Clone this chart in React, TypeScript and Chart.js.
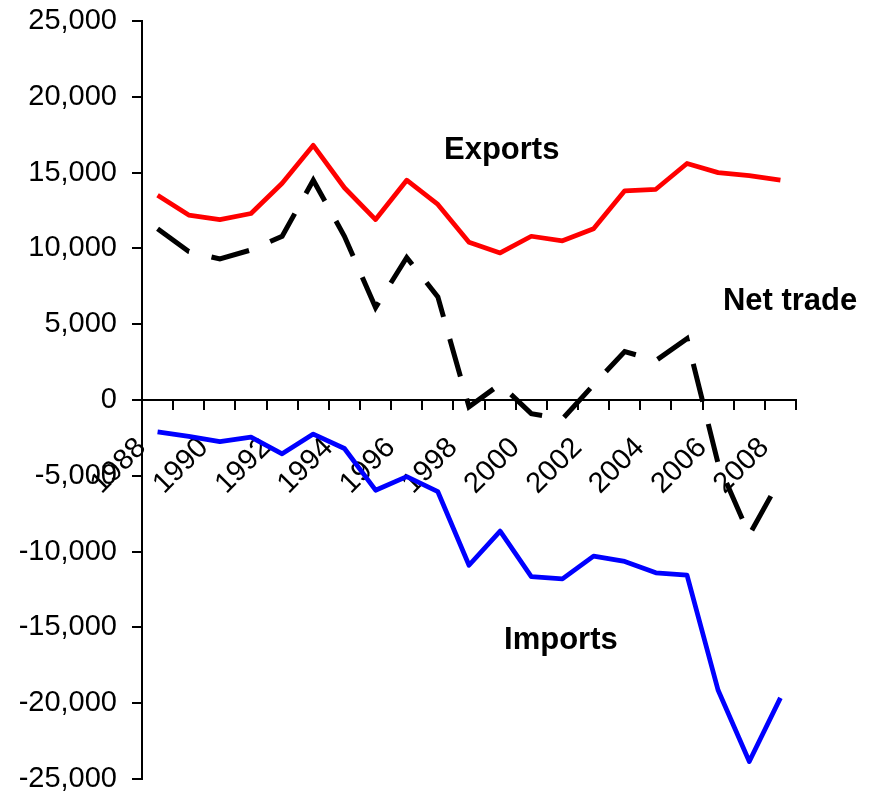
import React, { useEffect, useRef } from "react";
import { Chart, registerables } from "chart.js";

Chart.register(...registerables);

const years = [
  "1988", "1989", "1990", "1991", "1992", "1993", "1994", "1995", "1996", "1997",
  "1998", "1999", "2000", "2001", "2002", "2003", "2004", "2005", "2006", "2007", "2008",
];

const exportsValues = [
  13500, 12200, 11900, 12300, 14300, 16800, 14000, 11900, 14500, 12900,
  10400, 9700, 10800, 10500, 11300, 13800, 13900, 15600, 15000, 14800, 14500,
];

const importsValues = [
  -2100, -2400, -2750, -2450, -3550, -2250, -3200, -5950, -5050, -6050,
  -10900, -8650, -11650, -11800, -10300, -10650, -11400, -11550, -19150, -23850, -19650,
];

const netTradeValues = [
  11300, 9800, 9300, 9900, 10800, 14500, 10800, 6100, 9400, 6800,
  -450, 1050, -900, -1250, 1000, 3200, 2600, 4050, -4200, -8900, -5200,
];

const yMin = -25000;
const yMax = 25000;
const yStep = 5000;

// Series captions, anchored in data coordinates (category index, value)
const captionTexts = ["Exports", "Net trade", "Imports"];
const captionX = [11.05, 20.31, 12.95];
const captionY = [15900, 5930, -16430];

const FONT = "'Liberation Sans', Arial, Helvetica, sans-serif";

const fmt = (v: number) => {
  const s = Math.abs(v).toString().replace(/\B(?=(\d{3})+(?!\d))/g, ",");
  return (v < 0 ? "-" : "") + s;
};

const captionPlugin = {
  id: "captions",
  afterDatasetsDraw(chart: any) {
    const { ctx, scales } = chart;
    ctx.save();
    ctx.font = `bold 31px ${FONT}`;
    ctx.fillStyle = "#000";
    ctx.textAlign = "center";
    ctx.textBaseline = "alphabetic";
    captionTexts.forEach((t, i) => {
      const x = scales.x.getPixelForValue(captionX[i]);
      const y = scales.y.getPixelForValue(captionY[i]);
      ctx.fillText(t, x, y);
    });
    ctx.restore();
  },
};

export default function App() {
  const ref = useRef<HTMLCanvasElement>(null);

  useEffect(() => {
    if (!ref.current) return;
    const chart = new Chart(ref.current, {
      type: "line",
      data: {
        labels: years,
        datasets: [
          {
            label: "Exports",
            data: exportsValues,
            borderColor: "#FF0000",
            backgroundColor: "#FF0000",
            borderWidth: 4.75,
            pointRadius: 0,
            tension: 0,
            borderJoinStyle: "round",
          },
          {
            label: "Imports",
            data: importsValues,
            borderColor: "#0000FF",
            backgroundColor: "#0000FF",
            borderWidth: 4.75,
            pointRadius: 0,
            tension: 0,
            borderJoinStyle: "round",
          },
          {
            label: "Net trade",
            data: netTradeValues,
            borderColor: "#000000",
            backgroundColor: "#000000",
            borderWidth: 5,
            borderDash: [39, 23],
            pointRadius: 0,
            tension: 0,
            borderJoinStyle: "miter",
          },
        ],
      },
      options: {
        responsive: false,
        animation: false,
        events: [],
        layout: { padding: { left: 0, top: 21, right: 79, bottom: 17 } },
        plugins: {
          legend: { display: false },
          tooltip: { enabled: false },
          title: { display: false },
        },
        scales: {
          x: {
            type: "category",
            position: { y: 0 } as any,
            offset: true,
            grid: {
              offset: true,
              drawOnChartArea: false,
              drawTicks: true,
              tickLength: 9,
              color: "#000",
              lineWidth: 2,
            },
            border: { display: true, color: "#000", width: 2 },
            ticks: {
              autoSkip: false,
              minRotation: 45,
              maxRotation: 45,
              padding: 22,
              labelOffset: -16,
              color: "#000",
              font: { family: FONT, size: 29 },
              callback: (_v: any, i: number) => (i % 2 === 0 ? years[i] : ""),
            },
          },
          y: {
            type: "linear",
            min: yMin,
            max: yMax,
            afterFit: (s: any) => {
              s.width = 142;
              s.paddingTop = 0;
              s.paddingBottom = 0;
            },
            grid: {
              drawOnChartArea: false,
              drawTicks: true,
              tickLength: 10,
              color: "#000",
              lineWidth: 2,
            },
            border: { display: true, color: "#000", width: 2 },
            ticks: {
              stepSize: yStep,
              padding: 15,
              color: "#000",
              font: { family: FONT, size: 29 },
              callback: (v: any) => fmt(Number(v)),
            },
          },
        },
      },
      plugins: [captionPlugin],
    });
    return () => chart.destroy();
  }, []);

  return (
    <div style={{ position: "absolute", left: 0, top: 0, width: 875, height: 796, background: "#fff" }}>
      <canvas ref={ref} width={875} height={796} style={{ display: "block" }} />
    </div>
  );
}
